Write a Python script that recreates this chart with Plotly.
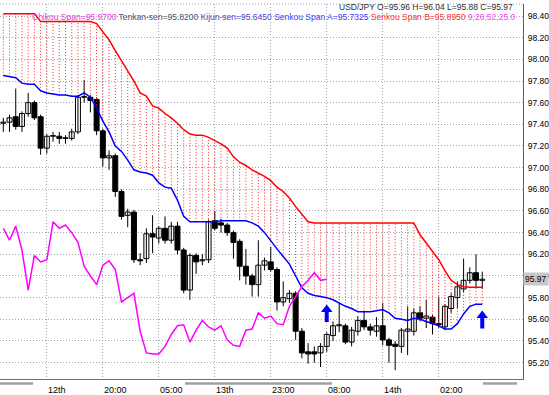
import plotly.graph_objects as go

# ---------------- data ----------------
opens = [97.41, 97.42, 97.47, 97.38, 97.50, 97.60, 97.47, 97.18, 97.29, 97.29,
         97.27, 97.27, 97.33, 97.65, 97.65, 97.63, 97.34, 97.09, 97.11, 96.78,
         96.56, 96.59, 96.15, 96.16, 96.39, 96.35, 96.44, 96.33, 96.46, 96.24,
         95.87, 96.19, 96.14, 96.15, 96.51, 96.49, 96.47, 96.40, 96.32, 96.09,
         96.00, 95.92, 96.10, 96.13, 96.06, 95.76, 95.79, 95.84, 95.49, 95.30,
         95.30, 95.29, 95.35, 95.45, 95.54, 95.54, 95.39, 95.49, 95.59, 95.53,
         95.49, 95.54, 95.41, 95.37, 95.35, 95.49, 95.49, 95.66, 95.61, 95.62,
         95.56, 95.53, 95.70, 95.80, 95.88, 95.96, 96.03, 95.96]
highs = [97.46, 97.49, 97.73, 97.52, 97.69, 97.62, 97.49, 97.31, 97.33, 97.33,
         97.30, 97.36, 97.67, 97.81, 97.67, 97.65, 97.36, 97.16, 97.13, 96.80,
         96.62, 96.61, 96.21, 96.44, 96.56, 96.46, 96.55, 96.50, 96.50, 96.26,
         96.21, 96.21, 96.20, 96.52, 96.60, 96.53, 96.49, 96.42, 96.34, 96.25,
         96.02, 96.33, 96.17, 96.27, 96.08, 95.95, 95.87, 95.86, 95.52, 95.38,
         95.35, 95.38, 95.48, 95.58, 95.75, 95.56, 95.53, 95.63, 95.68, 95.56,
         95.62, 95.75, 95.43, 95.40, 95.52, 95.72, 95.70, 95.72, 95.78, 95.64,
         95.81, 95.74, 95.84, 95.95, 96.16, 96.08, 96.20, 96.04]
lows = [97.33, 97.33, 97.35, 97.33, 97.47, 97.44, 97.12, 97.13, 97.24, 97.22,
        97.22, 97.25, 97.31, 97.60, 97.51, 97.30, 97.01, 96.98, 96.73, 96.52,
        96.45, 96.12, 96.10, 96.12, 96.21, 96.30, 96.30, 96.30, 96.20, 95.84,
        95.78, 96.02, 96.10, 96.12, 96.42, 96.40, 96.37, 96.16, 95.96, 95.92,
        95.81, 95.81, 96.05, 96.04, 95.68, 95.72, 95.75, 95.41, 95.24, 95.19,
        95.20, 95.16, 95.30, 95.40, 95.48, 95.37, 95.35, 95.45, 95.50, 95.45,
        95.44, 95.36, 95.20, 95.13, 95.29, 95.27, 95.45, 95.58, 95.52, 95.46,
        95.52, 95.50, 95.66, 95.70, 95.85, 95.93, 95.90, 95.88]
closes = [97.42, 97.46, 97.38, 97.50, 97.60, 97.46, 97.18, 97.29, 97.29, 97.27,
          97.27, 97.33, 97.65, 97.65, 97.62, 97.34, 97.09, 97.11, 96.78, 96.55,
          96.59, 96.15, 96.14, 96.39, 96.36, 96.44, 96.33, 96.46, 96.24, 95.87,
          96.19, 96.13, 96.15, 96.50, 96.44, 96.47, 96.40, 96.31, 96.09, 96.00,
          95.92, 96.10, 96.14, 96.06, 95.76, 95.80, 95.84, 95.49, 95.29, 95.28,
          95.28, 95.35, 95.46, 95.54, 95.55, 95.39, 95.50, 95.59, 95.53, 95.50,
          95.54, 95.41, 95.36, 95.35, 95.50, 95.51, 95.66, 95.61, 95.63, 95.56,
          95.55, 95.72, 95.81, 95.90, 95.96, 96.03, 95.96, 95.97]

senkou_a = [97.85, 97.84, 97.83, 97.78, 97.77, 97.77, 97.71, 97.69, 97.68, 97.67,
            97.67, 97.66, 97.66, 97.69, 97.65, 97.55, 97.43, 97.33, 97.20, 97.15,
            97.07, 96.98, 96.96, 96.95, 96.93, 96.86, 96.82, 96.81, 96.70, 96.55,
            96.50, 96.50, 96.50, 96.50, 96.50, 96.51, 96.51, 96.51, 96.51, 96.51,
            96.49, 96.46, 96.40, 96.32, 96.25, 96.18, 96.11, 96.00, 95.89, 95.84,
            95.82, 95.81, 95.80, 95.78, 95.75, 95.72, 95.70, 95.67, 95.67, 95.67,
            95.68, 95.69, 95.66, 95.61, 95.60, 95.59, 95.61, 95.60, 95.58, 95.56,
            95.54, 95.51, 95.51, 95.56, 95.65, 95.72, 95.74, 95.74]
senkou_b = [98.42, 98.42, 98.42, 98.42, 98.42, 98.42, 98.35, 98.35, 98.35, 98.35,
            98.35, 98.35, 98.35, 98.35, 98.35, 98.33, 98.25, 98.18, 98.08, 97.99,
            97.90, 97.80, 97.69, 97.66, 97.57, 97.55, 97.50, 97.46, 97.41, 97.35,
            97.31, 97.30, 97.30, 97.28, 97.25, 97.22, 97.18, 97.10, 97.05, 97.02,
            96.98, 96.95, 96.92, 96.88, 96.82, 96.78, 96.72, 96.64, 96.57, 96.50,
            96.49, 96.49, 96.49, 96.49, 96.49, 96.49, 96.49, 96.49, 96.49, 96.49,
            96.49, 96.49, 96.49, 96.49, 96.49, 96.49, 96.49, 96.38, 96.30, 96.22,
            96.15, 96.05, 95.96, 95.92, 95.90, 95.895, 95.895, 95.895]
chikou = [96.44, 96.33, 96.46, 96.24, 95.87, 96.19, 96.13, 96.15, 96.50, 96.44,
          96.47, 96.40, 96.31, 96.09, 96.00, 95.92, 96.10, 96.14, 96.06, 95.76,
          95.80, 95.84, 95.49, 95.29, 95.28, 95.28, 95.35, 95.46, 95.54, 95.55,
          95.39, 95.50, 95.59, 95.53, 95.50, 95.54, 95.41, 95.36, 95.35, 95.50,
          95.51, 95.66, 95.61, 95.63, 95.56, 95.55, 95.72, 95.81, 95.90, 95.96,
          96.03, 95.96, 95.97]

x_labels = ["11th", "12th", "20:00", "05:00", "13th", "23:00", "08:00", "14th", "02:00"]
x_label_pos = [-2, 7, 16, 25, 34, 43, 52, 61, 70]
y_ticks = [95.2, 95.4, 95.6, 95.8, 96.0, 96.2, 96.4, 96.6, 96.8, 97.0, 97.2,
           97.4, 97.6, 97.8, 98.0, 98.2, 98.4]
last_price = 95.97
arrow_idx = [52, 77]
arrow_head = [95.69, 95.635]
arrow_base = [95.575, 95.515]

# ---------------- build ----------------
idx = list(range(len(closes)))
FONT = "Liberation Sans, Arial, sans-serif"
GRID = "#a4a4b4"

fig = go.Figure()

# wicks
wx, wy = [], []
for i, h, l in zip(idx, highs, lows):
    wx += [i, i, None]
    wy += [l, h, None]
fig.add_trace(go.Scatter(x=wx, y=wy, mode="lines", line=dict(color="black", width=1),
                         hoverinfo="skip", showlegend=False))

# bodies
base = [min(o, c) for o, c in zip(opens, closes)]
hgt = [max(abs(c - o), 0.006) for o, c in zip(opens, closes)]
fill = ["white" if c >= o else "black" for o, c in zip(opens, closes)]
fig.add_trace(go.Bar(x=idx, y=hgt, base=base, width=0.8,
                     marker=dict(color=fill, line=dict(color="black", width=1)),
                     hoverinfo="skip", showlegend=False))

# cloud (dotted verticals between spans)
cx, cy = [], []
for i, a, b in zip(idx, senkou_a, senkou_b):
    cx += [i, i, None]
    cy += [a, b, None]
fig.add_trace(go.Scatter(x=cx, y=cy, mode="lines",
                         line=dict(color="#ff2a2a", width=1, dash="1px,2px"),
                         hoverinfo="skip", showlegend=False))

fig.add_trace(go.Scatter(x=idx, y=senkou_b, mode="lines", line=dict(color="#ff0000", width=1.5),
                         hoverinfo="skip", showlegend=False))
fig.add_trace(go.Scatter(x=idx, y=senkou_a, mode="lines", line=dict(color="#0000ff", width=1.5),
                         hoverinfo="skip", showlegend=False))
fig.add_trace(go.Scatter(x=idx[:len(chikou)], y=chikou, mode="lines",
                         line=dict(color="#ff00ff", width=1.5),
                         hoverinfo="skip", showlegend=False))

# arrows: stem + head
sx, sy = [], []
for xi, hd, bs in zip(arrow_idx, arrow_head, arrow_base):
    sx += [xi, xi, None]
    sy += [bs, hd, None]
fig.add_trace(go.Scatter(x=sx, y=sy, mode="lines", line=dict(color="#0000ff", width=4),
                         hoverinfo="skip", showlegend=False))
fig.add_trace(go.Scatter(x=arrow_idx, y=arrow_head, mode="markers",
                         marker=dict(symbol="triangle-up", size=10, color="#0000ff",
                                     line=dict(width=0)),
                         hoverinfo="skip", showlegend=False))

# x labels
for p, t in zip(x_label_pos, x_labels):
    fig.add_annotation(x=p, y=-0.03, xref="x", yref="paper", text=t, showarrow=False,
                       xanchor="left", yanchor="middle", xshift=-1,
                       font=dict(family=FONT, size=9, color="black"))

# price label
fig.add_annotation(x=1.0, y=last_price, xref="paper", yref="y", text="95.97", showarrow=False,
                   xanchor="left", yanchor="middle", xshift=0, bgcolor="#c8c8c8",
                   borderpad=1, font=dict(family=FONT, size=8.5, color="black"))

# header texts
fig.add_annotation(x=0.985, y=0.9928, xref="paper", yref="paper", showarrow=False,
                   xanchor="right", yanchor="middle",
                   text="USD/JPY O=95.96 H=96.04 L=95.88 C=95.97",
                   font=dict(family=FONT, size=8.5, color="#303030"))
legend_txt = ("<span style='color:#ee30ee'>Chikou Span=95.9700</span> "
              "<span style='color:#505070'>Tenkan-sen=95.8200</span> "
              "<span style='color:#4848d0'>Kijun-sen=95.6450</span> "
              "<span style='color:#3a3aff'>Senkou Span A=95.7325</span> "
              "<span style='color:#ff3030'>Senkou Span B=95.8950</span> "
              "<span style='color:#ff40ff'>9,26,52,25.0</span>")
fig.add_annotation(x=0.988, y=0.966, xref="paper", yref="paper", showarrow=False,
                   xanchor="right", yanchor="middle", text=legend_txt,
                   font=dict(family=FONT, size=8.5))

# scrollbar-like gray bars under the chart
for x0, x1 in [(0, 33), (185, 332), (483, 517)]:
    fig.add_shape(type="line", xref="paper", yref="paper", x0=x0 / 523, x1=x1 / 523,
                  y0=-0.012, y1=-0.012, line=dict(color="#a0a0a0", width=2.5))

# top dotted frame line
fig.add_shape(type="line", xref="paper", yref="paper", x0=0, x1=1, y0=1, y1=1,
              line=dict(color=GRID, width=1, dash="1px,2px"))

fig.update_layout(
    width=549, height=395,
    margin=dict(l=0, r=26, t=4, b=16),
    paper_bgcolor="white", plot_bgcolor="white",
    barmode="overlay", showlegend=False,
    xaxis=dict(range=[-0.531, 83.55], tickvals=x_label_pos, showticklabels=False,
               showgrid=True, gridcolor=GRID, griddash="1px,2px", gridwidth=1,
               zeroline=False, showline=True, linecolor="#707070", linewidth=1,
               ticks="", fixedrange=True),
    yaxis=dict(range=[95.049, 98.5108], side="right", tickvals=y_ticks,
               ticktext=["%.2f" % v for v in y_ticks], showgrid=True, gridcolor=GRID,
               griddash="1px,2px", gridwidth=1, zeroline=False, showline=True,
               linecolor="#606060", linewidth=1, ticks="", ticklabelstandoff=2,
               tickfont=dict(family=FONT, size=8.5, color="black"), fixedrange=True),
)

fig.write_html("out.html", config={"displayModeBar": False, "staticPlot": True},
               post_script="document.body.style.margin='0px';document.body.style.padding='0px';")
